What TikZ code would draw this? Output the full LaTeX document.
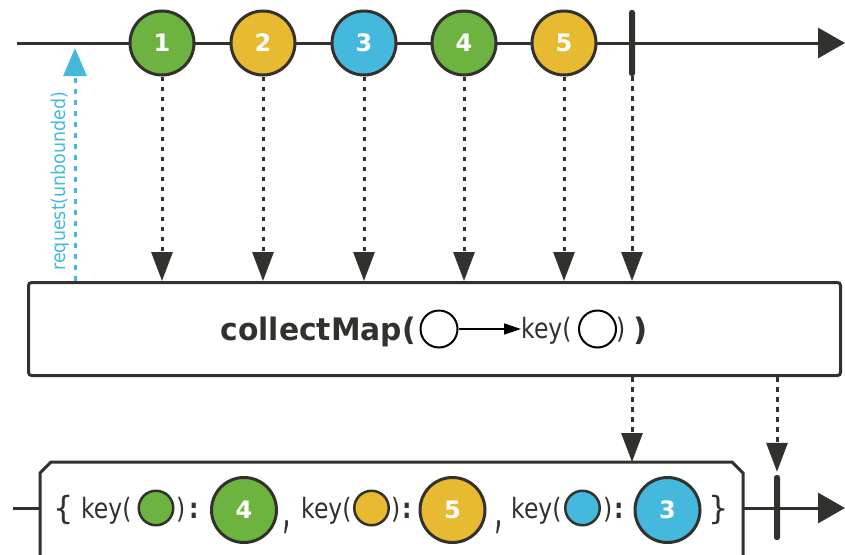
\documentclass[tikz,border=0pt]{standalone}
\usepackage{fontspec}
\setmainfont{DejaVu Sans}
\usetikzlibrary{arrows.meta}
\definecolor{dk}{RGB}{51,49,45}
\definecolor{cgreen}{RGB}{108,179,63}
\definecolor{cyellow}{RGB}{231,186,50}
\definecolor{ccyan}{RGB}{69,184,222}
\newcommand\condense[1]{\scalebox{0.84}[1]{#1}}
\begin{document}
\begin{tikzpicture}[x=1pt,y=-1pt,
  axisline/.style={draw=dk, line width=3pt},
  bigtip/.style={-{Triangle[width=30pt,length=27pt]}},
  ball/.style={circle, draw=dk, line width=3pt, minimum size=64pt, inner sep=0pt, text=white, font=\fontsize{24}{24}\selectfont\bfseries},
  keydot/.style={circle, draw=dk, line width=2.5pt, minimum size=34.5pt, inner sep=0pt},
  ring/.style={circle, draw=black, line width=2pt, minimum size=37pt, inner sep=0pt},
  barnode/.style={fill=dk, minimum width=6pt, minimum height=66pt, inner sep=0pt, rounded corners=2.5pt},
  dotarrow/.style={draw=dk, line width=3pt, dash pattern=on 4.5pt off 5.5pt, -{Triangle[width=21pt,length=29pt]}},
  reqarrow/.style={draw=ccyan, line width=3pt, dash pattern=on 5pt off 6pt, -{Triangle[width=23pt,length=28pt]}},
  thinarrow/.style={draw=black, line width=1.5pt, -{Triangle[width=11pt,length=17pt]}},
  mainbox/.style={draw=dk, line width=3pt, rounded corners=3pt, minimum width=812pt, minimum height=93pt, inner sep=0pt},
  boxline/.style={draw=dk, line width=3pt},
  txt/.style={inner sep=0pt, text=dk},
  keyfont/.style={font=\fontsize{28}{28}\selectfont},
  boldfont/.style={font=\fontsize{31}{31}\selectfont\bfseries},
  commafont/.style={font=\fontsize{36}{36}\selectfont},
]
\useasboundingbox (0,0) rectangle (845,554);
\clip (0,0) rectangle (845,554);

% ---- top timeline ----
\coordinate (tstart) at (17,43);
\coordinate (tend) at (845,43);
\draw[axisline, bigtip] (tstart) -- (tend);
\node[ball, fill=cgreen]  (c1) at (162,43) {1};
\node[ball, fill=cyellow] (c2) at (263,43) {2};
\node[ball, fill=ccyan]   (c3) at (364,43) {3};
\node[ball, fill=cgreen]  (c4) at (464,43) {4};
\node[ball, fill=cyellow] (c5) at (564,43) {5};
\node[barnode] (bar1) at (632,43) {};

% ---- operator box ----
\node[mainbox] (box) at (434.5,329) {};
\foreach \n in {c1,c2,c3,c4,c5,bar1}
  \draw[dotarrow] (\n.south) -- (\n.south |- box.north);

\coordinate (req) at (75,48);
\draw[reqarrow] (req |- box.north) -- (req);
\node[rotate=90, inner sep=0pt, text=ccyan, font=\fontsize{19}{19}\selectfont] (reqlbl) at (60,181) {\scalebox{0.92}[1]{request(unbounded)}};

\node[txt, boldfont, anchor=base east] (cm) at (416,340) {\scalebox{0.96}[1]{collectMap(}};
\node[ring] (r1) at (439,329) {};
\node[txt, keyfont, anchor=base west] (k1) at (521,338) {\condense{key(}};
\draw[thinarrow] (r1.east) -- (r1.east -| k1.west);
\node[ring] (r2) at (597.5,329) {};
\node[txt, keyfont, anchor=base west] (k1p) at (616,338) {\condense{)}};
\node[txt, boldfont, anchor=base west] (cmp) at (633,340) {)};

% ---- bottom result ----
\coordinate (bl0) at (13,508);
\coordinate (bboxL) at (40,508);
\coordinate (bboxR) at (743,508);
\coordinate (bboxT) at (632,462);
\coordinate (bend) at (845,508);
\draw[boxline] (40,558) -- (bboxL) -- (40,473) -- (51,462) -- (bboxT) -- (732,462) -- (743,473) -- (bboxR) -- (743,558);
\draw[axisline] (bl0) -- (bboxL);
\draw[axisline, bigtip] (bboxR) -- (bend);
\node[barnode, minimum height=65pt] (bar2) at (777,507.5) {};
\draw[dotarrow] (box.south -| bboxT) -- (bboxT);
\draw[dotarrow] (box.south -| bar2.north) -- ([yshift=3pt]bar2.north);

\node[txt, font=\fontsize{32}{32}\selectfont, anchor=base west] (lbr) at (53,519) {\{};
\node[txt, keyfont, anchor=base west] (ka) at (81,518) {\condense{key(}};
\node[keydot, fill=cgreen] (sa) at (156,508) {};
\node[txt, keyfont, anchor=base west] (pa) at (176,518) {\condense{)}};
\node[txt, keyfont, anchor=base west] (ca) at (189,518) {\condense{\bfseries :}};
\node[ball, fill=cgreen, minimum size=65pt] (ba) at (244,510) {4};
\node[txt, commafont, anchor=base west] (cma) at (282,527) {\scalebox{0.75}[1.5]{,}};

\node[txt, keyfont, anchor=base west] (kb) at (301,518) {\condense{key(}};
\node[keydot, fill=cyellow] (sb) at (371.5,508) {};
\node[txt, keyfont, anchor=base west] (pb) at (391,518) {\condense{)}};
\node[txt, keyfont, anchor=base west] (cb) at (402,518) {\condense{\bfseries :}};
\node[ball, fill=cyellow, minimum size=65pt] (bb) at (452.5,510) {5};
\node[txt, commafont, anchor=base west] (cmb) at (494,527) {\scalebox{0.75}[1.5]{,}};

\node[txt, keyfont, anchor=base west] (kc) at (511,518) {\condense{key(}};
\node[keydot, fill=ccyan] (sc) at (582.5,508) {};
\node[txt, keyfont, anchor=base west] (pc) at (603,518) {\condense{)}};
\node[txt, keyfont, anchor=base west] (cc) at (614,518) {\condense{\bfseries :}};
\node[ball, fill=ccyan, minimum size=65pt] (bc) at (667.5,510) {3};
\node[txt, font=\fontsize{32}{32}\selectfont, anchor=base west] (rbr) at (708,519) {\}};
\end{tikzpicture}
\end{document}
